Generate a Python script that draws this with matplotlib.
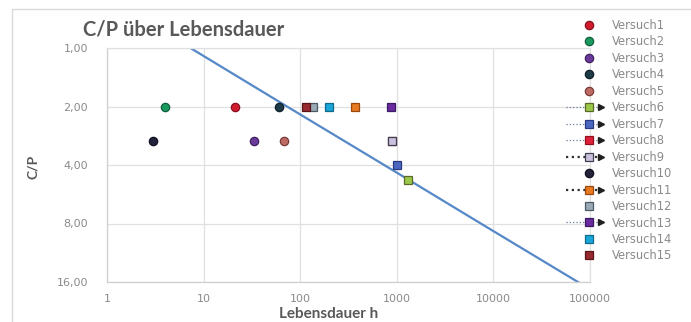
import matplotlib
matplotlib.use("Agg")
import matplotlib.pyplot as plt
from matplotlib.lines import Line2D
from matplotlib.legend_handler import HandlerBase
from matplotlib.patches import Rectangle
from matplotlib.ticker import FixedLocator, FixedFormatter, NullLocator

plt.rcParams['font.family'] = ['Lato', 'DejaVu Sans']

# --- data -------------------------------------------------------------
series_names = ["Versuch1", "Versuch2", "Versuch3", "Versuch4", "Versuch5",
                "Versuch6", "Versuch7", "Versuch8", "Versuch9", "Versuch10",
                "Versuch11", "Versuch12", "Versuch13", "Versuch14", "Versuch15"]
lebensdauer = [21, 4, 33, 60, 68,
               1300, 1000, 900, 900, 3,
               370, 135, 880, 200, 115]
cp_values = [2.0, 2.0, 3.0, 2.0, 3.0,
             4.8, 4.0, 3.0, 3.0, 3.0,
             2.0, 2.0, 2.0, 2.0, 2.0]

# theoretical life curve
curve_lebensdauer = [7.3, 73, 740, 7400, 75000]
curve_cp = [1.0, 2.0, 4.0, 8.0, 16.0]

x_ticks = [1, 10, 100, 1000, 10000, 100000]
x_tick_labels = ["1", "10", "100", "1000", "10000", "100000"]
y_ticks = [1, 2, 4, 8, 16]
y_tick_labels = ["1,00", "2,00", "4,00", "8,00", "16,00"]

# --- styles -----------------------------------------------------------
# (marker, face, edge, legend line colour or None)
styles = [
    ("o", "#d01c2c", "#8a1020", None),
    ("o", "#1a9a5e", "#106040", None),
    ("o", "#6a3a9a", "#402060", None),
    ("o", "#1e3c48", "#102028", None),
    ("o", "#c06a64", "#7a3a36", None),
    ("s", "#9cc84a", "#5a6a2a", "#6a7a9a"),
    ("s", "#4a68c0", "#2a3a80", "#6a7a9a"),
    ("s", "#e0203a", "#901020", "#6a7a9a"),
    ("s", "#c8c0dc", "#404050", "#303030"),
    ("o", "#22223a", "#101020", None),
    ("s", "#e87a22", "#9a4a10", "#303030"),
    ("s", "#9aaab4", "#4a5a66", None),
    ("s", "#6a2aa0", "#3a1a60", "#6a7a9a"),
    ("s", "#1aa6d8", "#106a8a", None),
    ("s", "#962a30", "#5a1418", None),
]

W, H = 691, 322
fig = plt.figure(figsize=(W / 100, H / 100), dpi=100)
fig.patch.set_facecolor("white")

# chart area frame
fig.patches.append(Rectangle((12 / W, -0.5), 1.2, 1.5 - 9 / H,
                             transform=fig.transFigure, fill=False,
                             edgecolor="#d9d9d9", lw=1.0))

ax = fig.add_axes([107 / W, 1 - 282 / H, 483 / W, 234 / H])
ax.set_xscale("log")
ax.set_yscale("log", base=2)
ax.set_xlim(1, 100000)
ax.set_ylim(16, 1)

ax.xaxis.set_major_locator(FixedLocator(x_ticks))
ax.xaxis.set_major_formatter(FixedFormatter(x_tick_labels))
ax.xaxis.set_minor_locator(NullLocator())
ax.yaxis.set_major_locator(FixedLocator(y_ticks))
ax.yaxis.set_major_formatter(FixedFormatter(y_tick_labels))
ax.yaxis.set_minor_locator(NullLocator())

ax.grid(True, color="#e0e0e0", lw=0.9)
ax.set_axisbelow(True)
for side in ["top", "right"]:
    ax.spines[side].set_color("#e0e0e0")
    ax.spines[side].set_linewidth(0.9)
for side in ["left", "bottom"]:
    ax.spines[side].set_color("#cfcfcf")
    ax.spines[side].set_linewidth(0.9)
ax.tick_params(length=0, labelsize=8, labelcolor="#8a8a8a")
for lab in ax.get_xticklabels() + ax.get_yticklabels():
    lab.set_family("DejaVu Sans")
ax.tick_params(axis="y", pad=13.5)
ax.tick_params(axis="x", pad=9)

ax.plot(curve_lebensdauer, curve_cp, color="#5588c8", lw=1.6, zorder=2)

handles = []
for name, x, y, st in zip(series_names, lebensdauer, cp_values, styles):
    marker, fc, ec, lc = st
    h, = ax.plot([x], [y], ls="none", marker=marker, ms=6, mfc=fc, mec=ec,
                 mew=0.9, label=name, zorder=3)
    h._legend_line_color = lc
    handles.append(h)


class KeyHandler(HandlerBase):
    """Legend key: marker, optionally with dotted lead line and arrow head."""
    def create_artists(self, legend, orig, xdescent, ydescent, width, height,
                       fontsize, trans):
        y = height / 2 - ydescent
        x0 = -xdescent
        xm = x0 + width * 0.67
        xe = x0 + width
        artists = []
        lc = orig._legend_line_color
        if lc is not None:
            heavy = lc == "#303030"
            artists.append(Line2D([x0, xe - 2], [y, y],
                                  ls=(0, (1, 1.6)) if heavy else ":",
                                  color=lc, lw=1.6 if heavy else 0.9))
        artists.append(Line2D([xm], [y], ls="none", marker=orig.get_marker(),
                              ms=orig.get_markersize(),
                              mfc=orig.get_markerfacecolor(),
                              mec=orig.get_markeredgecolor(),
                              mew=orig.get_markeredgewidth()))
        if lc is not None:
            artists.append(Line2D([xe], [y], ls="none", marker=">", ms=4,
                                  color="#202020"))
        for a in artists:
            a.set_transform(trans)
        return artists


hmap = {h: KeyHandler() for h in handles}

leg = fig.legend(handles=handles, handler_map=hmap, loc="upper left",
                 bbox_to_anchor=(566 / W, 1 - 19 / H), frameon=False,
                 prop={"family": "DejaVu Sans", "size": 8.3},
                 labelcolor="#8a8a8a", borderpad=0,
                 borderaxespad=0, labelspacing=0.3, handlelength=3.0,
                 handletextpad=0.95)

fig.text(184 / W, 1 - 29 / H, "C/P über Lebensdauer", ha="center", va="center",
         fontsize=14.5, fontweight="bold", color="#595959")
fig.text(33 / W, 1 - 167 / H, "C/P", ha="center", va="center", rotation=90,
         fontsize=10, fontweight="bold", color="#595959")
fig.text(329 / W, 1 - 318 / H, "Lebensdauer h", ha="center", va="baseline",
         fontsize=11, fontweight="bold", color="#595959")

fig.savefig("out.png", dpi=100)
